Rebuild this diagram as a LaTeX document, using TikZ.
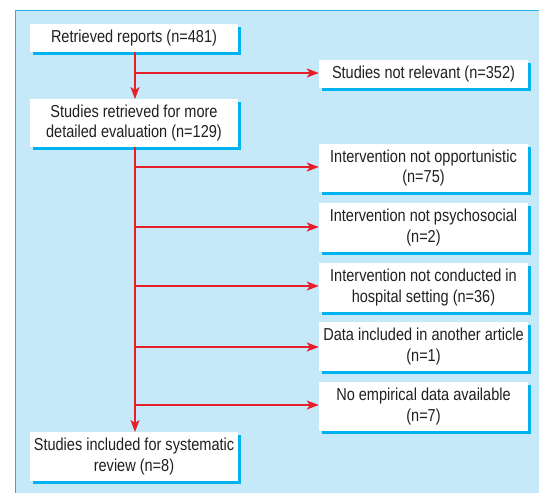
\documentclass[tikz,border=0pt]{standalone}
\usepackage{fontspec}
\setmainfont[FakeStretch=0.84]{Liberation Sans}
\usetikzlibrary{arrows.meta,shadows}
\definecolor{panelbg}{RGB}{198,233,249}
\definecolor{panelline}{RGB}{40,175,230}
\definecolor{shadowc}{RGB}{0,178,238}
\definecolor{flowred}{RGB}{232,30,40}
\definecolor{txt}{RGB}{35,31,32}
\begin{document}
\begin{tikzpicture}[x=1pt,y=-1pt,
  box/.style={fill=white, text=txt, align=center, inner sep=0pt,
    font=\fontsize{17.3}{20.5}\selectfont,
    drop shadow={shadow xshift=3pt, shadow yshift=-3pt, fill=shadowc, opacity=1}},
  lbox/.style={box, minimum width=208pt},
  rbox/.style={box, minimum width=209pt},
  flow/.style={draw=flowred, line width=1.6pt, -{Stealth[length=12pt,width=9pt,inset=3pt]}},
  branch/.style={draw=flowred, line width=1.6pt}]
\useasboundingbox (0,0) rectangle (539,493);
\fill[panelbg] (15,10) rectangle (545,500);
\draw[panelline, line width=1pt] (15,500) -- (15,10) -- (545,10);

\node[lbox, minimum height=28pt] (r1) at (134,38) {Retrieved reports (n=481)};
\node[rbox, minimum height=28pt] (nr) at (423.5,74) {Studies not relevant (n=352)};
\node[lbox, minimum height=48pt] (r2) at (134,123) {Studies retrieved for more\\detailed evaluation (n=129)};
\node[rbox, minimum height=48pt] (e1) at (423.5,168) {Intervention not opportunistic\\(n=75)};
\node[rbox, minimum height=49pt] (e2) at (423.5,227.5) {Intervention not psychosocial\\(n=2)};
\node[rbox, minimum height=49pt] (e3) at (423.5,287.5) {Intervention not conducted in\\hospital setting (n=36)};
\node[rbox, minimum height=49pt] (e4) at (423.5,346.5) {Data included in another article\\(n=1)};
\node[rbox, minimum height=49pt] (e5) at (423.5,406.5) {No empirical data available\\(n=7)};
\node[lbox, minimum height=49pt] (fin) at (134,456.5) {Studies included for systematic\\review (n=8)};

\coordinate (t1) at (135,52);
\coordinate (h1) at (135,99);
\coordinate (t2) at (135,147);
\coordinate (h2) at (135,432);
\coordinate (b0) at (135,73);
\coordinate (b1) at (135,167);
\coordinate (b2) at (135,227);
\coordinate (b3) at (135,286);
\coordinate (b4) at (135,347);
\coordinate (b5) at (135,405);

\draw[flow] (t1) -- (h1);
\draw[flow] (t2) -- (h2);
\draw[flow] (b0) -- (b0 -| nr.west);
\draw[flow] (b1) -- (b1 -| e1.west);
\draw[flow] (b2) -- (b2 -| e2.west);
\draw[flow] (b3) -- (b3 -| e3.west);
\draw[flow] (b4) -- (b4 -| e4.west);
\draw[flow] (b5) -- (b5 -| e5.west);
\end{tikzpicture}
\end{document}
